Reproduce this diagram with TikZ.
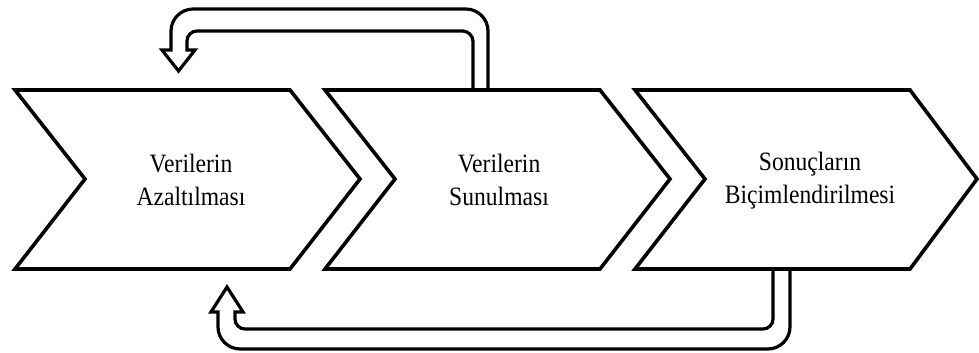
\documentclass[tikz,border=0pt]{standalone}
\usepackage{fontspec}
\setmainfont[FakeStretch=0.89]{Liberation Serif}
\begin{document}
\begin{tikzpicture}[x=1pt,y=-1pt,
  chevron/.style={draw=black,line width=3.6pt,line join=miter},
  loopline/.style={draw=black,line width=3.2pt,line join=miter},
  steptext/.style={align=center,inner sep=0pt,
    font=\fontsize{26.5}{33}\selectfont}]
\useasboundingbox (0,0) rectangle (979,353);

% three process chevrons
\draw[chevron] (15,90) -- (290,90) -- (360,179) -- (290,269) -- (15,269) -- (85,179) -- cycle;
\draw[chevron] (325,90) -- (600,90) -- (670,179) -- (600,269) -- (325,269) -- (395,179) -- cycle;
\draw[chevron] (635,90) -- (910,90) -- (977,179) -- (910,269) -- (635,269) -- (705,179) -- cycle;

\node[steptext] (a) at (191,180) {Verilerin\\Azaltılması};
\node[steptext] (b) at (499,180) {Verilerin\\Sunulması};
\node[steptext] (c) at (810,181) {Sonuçların\\Biçimlendirilmesi};

% hollow feedback arrow over the top: from the second step back to the first
\draw[loopline]
  (473,90) -- (473,41) .. controls (473,35.5) and (467.5,31) .. (463,31)
  -- (197,31) .. controls (191.5,31) and (187,35.5) .. (187,41)
  -- (187,50) -- (195,50) -- (178.5,71) -- (162,50) -- (171,50)
  -- (171,31) .. controls (171,19) and (181,9) .. (193,9)
  -- (466,9) .. controls (478,9) and (488,19) .. (488,31) -- (488,90);

% hollow feedback arrow underneath: from the third step back to the first
\draw[loopline]
  (773,269) -- (773,319) .. controls (773,324.5) and (768.5,329) .. (763,329)
  -- (245,329) .. controls (239.5,329) and (235,324.5) .. (235,319)
  -- (235,312) -- (243,312) -- (227,287) -- (211,312) -- (218,312)
  -- (218,327) .. controls (218,339) and (228,349) .. (240,349)
  -- (768,349) .. controls (780,349) and (790,339) .. (790,327) -- (790,269);
\end{tikzpicture}
\end{document}
